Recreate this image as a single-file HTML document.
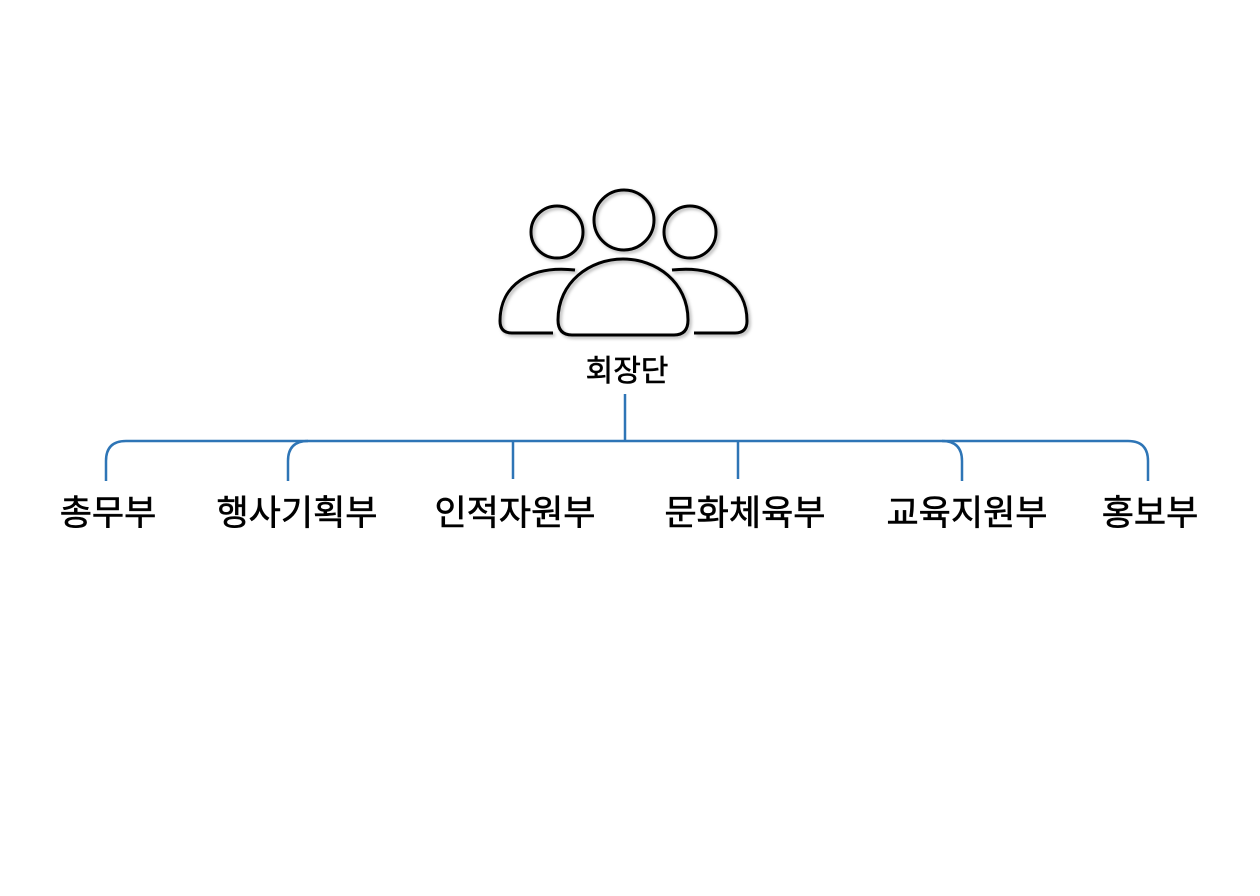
<!DOCTYPE html>
<html><head><meta charset="utf-8"><style>
body{margin:0;background:#fff;}
.t{font-family:"Liberation Sans","Noto Sans CJK KR",sans-serif;fill:#000;text-anchor:middle;stroke:#000;stroke-width:0.6;}
</style></head><body>
<svg width="1260" height="891" viewBox="0 0 1260 891" xmlns="http://www.w3.org/2000/svg">
<defs><filter id="sh" x="-10%" y="-10%" width="130%" height="130%"><feDropShadow dx="2" dy="2" stdDeviation="1.5" flood-color="#000" flood-opacity="0.3"/></filter></defs>
<g fill="none" stroke="#000" stroke-width="3" filter="url(#sh)">
<circle cx="557" cy="232" r="26"/>
<circle cx="624" cy="220" r="30"/>
<circle cx="690" cy="232" r="26"/>
<path d="M553,333 L512,333 Q500,333 500,321 C500,285 530,265 575,270"/>
<path d="M694,333 L735,333 Q747,333 747,321 C747,285 717,265 672,270"/>
<path d="M572,335 Q558,335 558,320 C558,282 590,259 623,259 C656,259 688,282 688,320 Q688,335 674,335 Z"/>
</g>
<text class="t" x="627" y="381" font-size="30">회장단</text>
<g fill="none" stroke="#2e75b6" stroke-width="2.5">
<line x1="625" y1="394" x2="625" y2="442"/>
<path d="M106,481 L106,461 Q106,441 126,441 L1128,441 Q1148,441 1148,461 L1148,481"/>
<path d="M288,481 L288,461 Q288,441 308,441"/>
<path d="M962,481 L962,461 Q962,441 942,441"/>
<line x1="513" y1="441" x2="513" y2="479"/>
<line x1="738" y1="441" x2="738" y2="479"/>
</g>
<g class="t" font-size="35">
<text x="108" y="525">총무부</text>
<text x="297" y="525">행사기획부</text>
<text x="515" y="525">인적자원부</text>
<text x="745" y="525">문화체육부</text>
<text x="967" y="525">교육지원부</text>
<text x="1150" y="525">홍보부</text>
</g>
</svg>
</body></html>
